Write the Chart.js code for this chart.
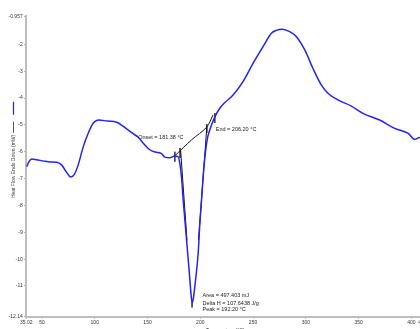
<!DOCTYPE html>
<html>
<head>
<meta charset="utf-8">
<script src="https://cdn.jsdelivr.net/npm/chart.js@4"></script>
<style>
  html, body { margin: 0; padding: 0; background: #fff; overflow: hidden; }
  #wrap { width: 420px; height: 329px; overflow: hidden; position: relative; }
  canvas { display: block; }
</style>
</head>
<body>
<div id="wrap"><canvas id="dsc" width="440" height="340"></canvas></div>
<script>
// DSC scan: heat flow (mW, endo down) against temperature (°C)
const temperature = [
  35.5, 37.5, 40.2, 45, 52, 58, 63.9, 68.6, 73, 77.1, 80.5, 84.3, 89.1, 93.8, 98.5,
  103.9, 112, 120.7, 130.2, 136, 141.1, 145.9, 150.6, 154.5, 158.6, 163.3, 166.4,
  171.1, 175.9, 179.0, 180.6, 182.2, 183.7, 185.4, 187.0, 189.4, 191.0, 192.2, 193.5,
  194.8, 198.0, 199.6, 201.2, 202.7, 204.3, 206.5, 209.0, 213.8, 218.5, 223.0, 231.1,
  240.5, 250.0, 259.5, 267.4, 272, 277.5, 284.7, 291.1, 299.0, 306.8, 314.8, 321.0,
  330.5, 343.2, 354.2, 370.0, 384.2, 396.8, 403.1, 407.9
];
const heatFlow = [
  -6.56, -6.38, -6.27, -6.30, -6.35, -6.38, -6.39, -6.49, -6.75, -6.94, -6.85, -6.49, -5.81, -5.31, -4.94,
  -4.82, -4.86, -4.90, -5.15, -5.32, -5.46, -5.68, -5.88, -5.98, -6.02, -6.07, -6.20,
  -6.22, -6.16, -6.18, -6.43, -6.93, -7.75, -8.54, -9.29, -10.40, -11.20, -11.62, -11.45,
  -11.02, -9.78, -8.66, -7.80, -6.93, -6.24, -5.56, -5.19, -4.70, -4.38, -4.18, -3.89,
  -3.39, -2.71, -2.09, -1.59, -1.48, -1.44, -1.53, -1.72, -2.21, -2.90, -3.52, -3.82,
  -4.07, -4.30, -4.57, -4.82, -5.13, -5.31, -5.54, -5.46
];

// Peak analysis results
const onsetT = 181.38;
const endT = 206.20;
const peakT = 192.20;
const peakArea = 497.403;
const deltaH = 107.6438;

// Construction lines of the peak integration
const baselineT = [175.9, 191.7, 206.2, 212.1];
const baselineV = [-6.15, -5.56, -5.08, -4.63];
const leftTangentT = [onsetT, 187.4];
const leftTangentV = [-5.95, -9.30];
const rightTangentT = [endT, 198.3];
const rightTangentV = [-5.08, -9.30];
// short vertical limit markers: [temperature, top value, bottom value]
const limitMarkers = [
  [175.9, -6.00, -6.37],
  [180.8, -5.86, -6.23],
  [endT, -4.97, -5.30],
  [213.8, -4.56, -4.93],
  [peakT, -11.58, -11.80]
];

// Axis range and tick labels
const xMin = 35.02, xMax = 412.4;
const yMin = -12.14, yMax = -0.957;
const xTicks = [35.02, 50, 100, 150, 200, 250, 300, 350, 400, 412.4];
const yTicks = [-0.957, -2, -3, -4, -5, -6, -7, -8, -9, -10, -11, -12.14];
const xTickText = ['35.02', '50', '100', '150', '200', '250', '300', '350', '400', '412.4'];
const yTickText = ['-0.957', '-2', '-3', '-4', '-5', '-6', '-7', '-8', '-9', '-10', '-11', '-12.14'];

const zip = (xs, ys) => xs.map((t, i) => ({ x: t, y: ys[i] }));
const markerPoints = [];
limitMarkers.forEach(([t, a, b]) => {
  markerPoints.push({ x: t, y: a }, { x: t, y: b }, { x: t, y: null });
});

const FONT = '"Liberation Sans", Arial, sans-serif';

const notes = [
  { text: `Onset = ${onsetT.toFixed(2)} °C`, t: 141.1, v: -5.48 },
  { text: `End = ${endT.toFixed(2)} °C`, t: 214.7, v: -5.19 },
  { text: `Area = ${peakArea.toFixed(3)} mJ`, t: 202.1, v: -11.37 },
  { text: `Delta H = ${deltaH.toFixed(4)} J/g`, t: 202.1, v: -11.64 },
  { text: `Peak = ${peakT.toFixed(2)} °C`, t: 202.1, v: -11.89 }
];

// Writes the peak analysis text next to the construction lines
const notePlugin = {
  id: 'peakNotes',
  afterDatasetsDraw(chart) {
    const { ctx, scales: { x, y } } = chart;
    ctx.save();
    ctx.font = '5.5px ' + FONT;
    ctx.fillStyle = '#222';
    ctx.textAlign = 'left';
    ctx.textBaseline = 'middle';
    notes.forEach(n => ctx.fillText(n.text, x.getPixelForValue(n.t), y.getPixelForValue(n.v)));
    ctx.restore();
  }
};

// Small line key drawn beside the vertical axis title
const keyPlugin = {
  id: 'titleKey',
  afterDraw(chart) {
    const { ctx, chartArea } = chart;
    const cx = 13.5;
    ctx.save();
    ctx.font = '5px ' + FONT;
    const w = ctx.measureText(chart.options.scales.y.title.text).width;
    const top = (chartArea.top + chartArea.bottom) / 2 - w / 2;
    ctx.lineWidth = 1;
    ctx.strokeStyle = '#555';
    ctx.beginPath(); ctx.moveTo(cx, top - 2); ctx.lineTo(cx, top - 13); ctx.stroke();
    ctx.strokeStyle = '#2323f5';
    ctx.lineWidth = 1.2;
    ctx.beginPath(); ctx.moveTo(cx, top - 20); ctx.lineTo(cx, top - 33); ctx.stroke();
    ctx.restore();
  }
};

new Chart(document.getElementById('dsc'), {
  type: 'line',
  data: {
    datasets: [
      {
        label: 'Heat Flow',
        data: zip(temperature, heatFlow),
        borderColor: '#2323f5',
        borderWidth: 1.5,
        pointRadius: 0,
        cubicInterpolationMode: 'monotone',
        fill: false
      },
      {
        label: 'Baseline',
        data: zip(baselineT, baselineV),
        borderColor: '#111',
        borderWidth: 1,
        pointRadius: 0,
        tension: 0.3
      },
      {
        label: 'Onset tangent',
        data: zip(leftTangentT, leftTangentV),
        borderColor: '#111',
        borderWidth: 1,
        pointRadius: 0,
        tension: 0
      },
      {
        label: 'End tangent',
        data: zip(rightTangentT, rightTangentV),
        borderColor: '#111',
        borderWidth: 1,
        pointRadius: 0,
        tension: 0
      },
      {
        label: 'Limits',
        data: markerPoints,
        borderColor: '#333',
        borderWidth: 0.8,
        pointRadius: 0,
        tension: 0,
        spanGaps: false
      }
    ]
  },
  options: {
    responsive: false,
    animation: false,
    parsing: true,
    layout: { padding: { top: 16.3, right: 15.6, left: 0, bottom: 0 } },
    plugins: { legend: { display: false }, tooltip: { enabled: false } },
    scales: {
      x: {
        type: 'linear',
        min: xMin,
        max: xMax,
        afterFit(s) { s.height = 23.4; },
        afterBuildTicks(s) { s.ticks = xTicks.map(v => ({ value: v })); },
        ticks: {
          autoSkip: false,
          maxRotation: 0,
          padding: 1.5,
          color: '#333',
          font: { size: 5, family: FONT },
          callback: (v, i) => xTickText[i]
        },
        grid: { drawOnChartArea: false, tickLength: 2, color: '#999' },
        border: { color: '#bdbdbd', width: 2 },
        title: {
          display: true,
          text: 'Temperature (°C)',
          color: '#333',
          font: { size: 5, family: FONT },
          padding: { top: 0, bottom: 6.5 }
        }
      },
      y: {
        type: 'linear',
        min: yMin,
        max: yMax,
        afterFit(s) { s.width = 26.2; },
        afterBuildTicks(s) { s.ticks = yTicks.map(v => ({ value: v })); },
        ticks: {
          autoSkip: false,
          padding: 1.5,
          color: '#333',
          font: { size: 5, family: FONT },
          callback: (v, i) => yTickText[i]
        },
        grid: { drawOnChartArea: false, tickLength: 2, color: '#999' },
        border: { color: '#bdbdbd', width: 2 },
        title: {
          display: true,
          text: 'Heat Flow Endo Down (mW)',
          color: '#333',
          font: { size: 5, family: FONT },
          padding: { top: 10.5, bottom: 0 }
        }
      }
    }
  },
  plugins: [notePlugin, keyPlugin]
});
</script>
</body>
</html>
